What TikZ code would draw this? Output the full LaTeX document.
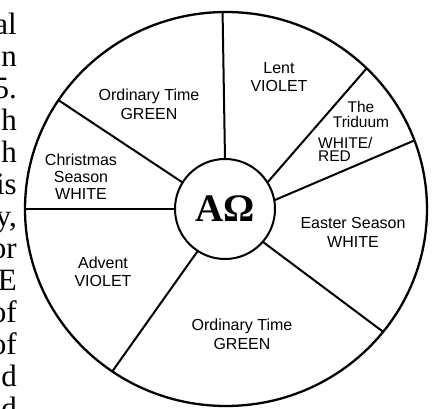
\documentclass[tikz,border=0pt]{standalone}
\usepackage{fontspec}
\setmainfont{Liberation Serif}
\setsansfont{Liberation Sans}
\usetikzlibrary{shapes.geometric}

\begin{document}
\begin{tikzpicture}[x=1pt, y=-1pt,
    season/.style={font=\sffamily\fontsize{16}{#1}\selectfont, align=center, inner sep=0},
    season/.default=19,
    spoke/.style={line width=2pt},
    pagetext/.style={font=\fontsize{31}{32}\selectfont, inner sep=0, anchor=base east}]
  \useasboundingbox (0,0) rectangle (432,409);
  \clip (0,0) rectangle (432,409);
  % page text cut off at the left
  \foreach \t [count=\i from 0] in {al,n,5.,h,h,is,{y,},or,E,of,of,d,d}
    \node[pagetext] (line\i) at (17, 35+32*\i) {\t};
  % the wheel
  \node[draw, ellipse, line width=2.3pt, minimum width=402pt, minimum height=394pt,
        inner sep=0, outer sep=0] (rim) at (226,209) {};
  \node[draw, circle, line width=2pt, minimum size=100pt, inner sep=0, outer sep=0,
        font=\bfseries\fontsize{39}{39}\selectfont] (hub) at (225,209) {AΩ};
  \foreach \a/\b in {90/91, 32.7/45, 10/20, -41/-38, 237/235.2, 180/180, 148/147}
    \draw[spoke] (hub.\a) -- (rim.\b);
  % seasons
  \node[season] (ordtop) at (149,104.5) {Ordinary Time\\GREEN};
  \node[season=18] (lent) at (279,77) {Lent\\VIOLET};
  \node[season, font=\sffamily\fontsize{15.5}{15}\selectfont] (triduum) at (361,114.5) {The\\Triduum};
  \node[season, font=\sffamily\fontsize{15.5}{13}\selectfont, align=left, anchor=west]
    (triduumcol) at (318,149.5) {WHITE/\\RED};
  \node[season=17] (christmas) at (81,176.5) {Christmas\\Season\\WHITE};
  \node[season] (easter) at (353,232.5) {Easter Season\\WHITE};
  \node[season=18] (advent) at (103,272) {Advent\\VIOLET};
  \node[season] (ordbottom) at (242,334.5) {Ordinary Time\\GREEN};
\end{tikzpicture}
\end{document}
